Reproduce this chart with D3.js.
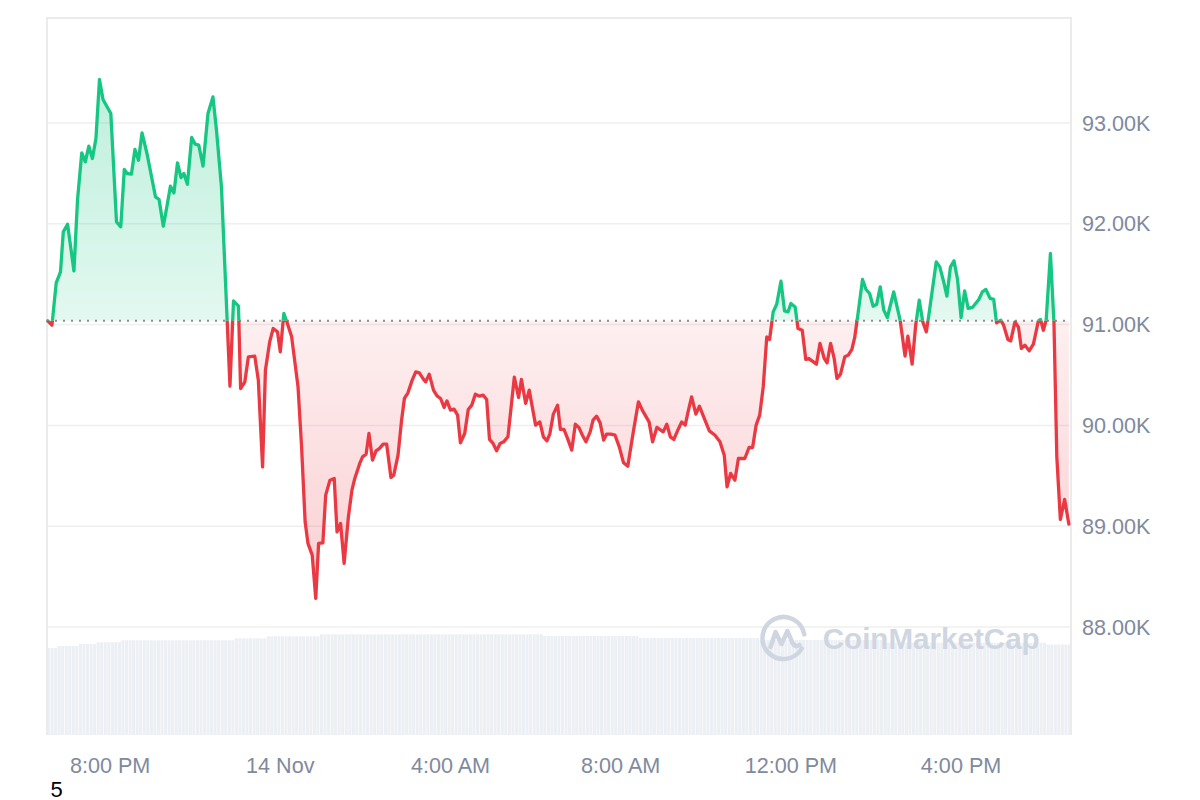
<!DOCTYPE html>
<html><head><meta charset="utf-8">
<script src="https://cdn.jsdelivr.net/npm/d3@7"></script>
<style>
html,body{margin:0;padding:0;background:#fff;}
svg{display:block;font-family:"Liberation Sans",Arial,sans-serif;}
</style></head><body>
<svg id="chart" width="1200" height="800"></svg>
<script>
// ---- data (BTC/USD, 13–14 Nov 2024) ----
const times = [
"13 18:32","13 18:38","13 18:44","13 18:50","13 18:54","13 19:00","13 19:09","13 19:14","13 19:20","13 19:25",
"13 19:30","13 19:35","13 19:40","13 19:45","13 19:50","13 20:01","13 20:09","13 20:15","13 20:20","13 20:24",
"13 20:30","13 20:35","13 20:40","13 20:45","13 20:52","13 20:58","13 21:04","13 21:09","13 21:15","13 21:20",
"13 21:25","13 21:30","13 21:35","13 21:40","13 21:44","13 21:49","13 21:55","13 22:00","13 22:05","13 22:11",
"13 22:18","13 22:25","13 22:30","13 22:37","13 22:49","13 22:54","13 23:01","13 23:04","13 23:10","13 23:15",
"13 23:24","13 23:29","13 23:35","13 23:39","13 23:45","13 23:50","13 23:56","14 00:00","14 00:05","14 00:10",
"14 00:16","14 00:25","14 00:30","14 00:35","14 00:39","14 00:45","14 00:50","14 00:54","14 01:00","14 01:04",
"14 01:10","14 01:16","14 01:20","14 01:25","14 01:30","14 01:36","14 01:41","14 01:45","14 01:52","14 01:56",
"14 02:01","14 02:05","14 02:10","14 02:15","14 02:20","14 02:25","14 02:30","14 02:36","14 02:40","14 02:46",
"14 02:51","14 02:55","14 03:00","14 03:06","14 03:11","14 03:16","14 03:22","14 03:25","14 03:30","14 03:36",
"14 03:41","14 03:46","14 03:51","14 03:55","14 04:00","14 04:05","14 04:10","14 04:14","14 04:20","14 04:25",
"14 04:30","14 04:35","14 04:41","14 04:46","14 04:51","14 04:55","14 05:00","14 05:05","14 05:10","14 05:15",
"14 05:21","14 05:30","14 05:36","14 05:40","14 05:46","14 05:51","14 06:00","14 06:06","14 06:11","14 06:16",
"14 06:20","14 06:25","14 06:31","14 06:35","14 06:40","14 06:45","14 06:51","14 06:56","14 07:01","14 07:06",
"14 07:11","14 07:17","14 07:21","14 07:26","14 07:31","14 07:36","14 07:40","14 07:46","14 07:52","14 07:58",
"14 08:04","14 08:10","14 08:17","14 08:25","14 08:31","14 08:40","14 08:45","14 08:51","14 09:00","14 09:05",
"14 09:10","14 09:15","14 09:21","14 09:26","14 09:31","14 09:35","14 09:40","14 09:46","14 09:51","14 09:56",
"14 10:05","14 10:13","14 10:20","14 10:26","14 10:30","14 10:35","14 10:41","14 10:46","14 10:55","14 11:01",
"14 11:06","14 11:11","14 11:16","14 11:21","14 11:26","14 11:30","14 11:35","14 11:40","14 11:46","14 11:51",
"14 11:56","14 12:00","14 12:06","14 12:10","14 12:16","14 12:21","14 12:25","14 12:36","14 12:41","14 12:47",
"14 12:51","14 12:56","14 13:01","14 13:05","14 13:10","14 13:16","14 13:21","14 13:26","14 13:30","14 13:35",
"14 13:41","14 13:46","14 13:51","14 13:56","14 14:01","14 14:06","14 14:11","14 14:16","14 14:25","14 14:34",
"14 14:41","14 14:45","14 14:51","14 14:56","14 15:01","14 15:06","14 15:11","14 15:15","14 15:25","14 15:30",
"14 15:36","14 15:40","14 15:45","14 15:50","14 15:55","14 16:00","14 16:05","14 16:10","14 16:16","14 16:25",
"14 16:30","14 16:35","14 16:41","14 16:46","14 16:50","14 16:56","14 17:00","14 17:06","14 17:10","14 17:16",
"14 17:21","14 17:25","14 17:30","14 17:36","14 17:42","14 17:49","14 17:52","14 17:56","14 18:00","14 18:06",
"14 18:11","14 18:15","14 18:20","14 18:26","14 18:32"
];
const prices = [
91037,90994,91413,91523,91919,91995,91532,92233,92702,92613,
92769,92647,92845,93430,93232,93093,92018,91969,92538,92498,
92491,92736,92630,92901,92696,92481,92266,92240,91976,92167,
92372,92306,92603,92458,92498,92392,92855,92789,92779,92571,
93093,93258,92927,92365,90389,91235,91182,90366,90432,90680,
90687,90449,89589,90548,90828,90961,90928,90729,91110,91011,
90878,90382,89787,89044,88830,88714,88284,88830,88836,89309,
89457,89474,88945,89028,88631,89093,89358,89474,89623,89688,
89715,89920,89656,89748,89772,89814,89814,89484,89507,89705,
90052,90267,90323,90449,90531,90521,90456,90432,90508,90350,
90293,90267,90178,90243,90151,90161,90102,89827,89920,90158,
90201,90310,90290,90300,90257,89861,89821,89748,89821,89837,
89887,90478,90277,90456,90218,90350,90003,90035,89887,89847,
89913,90112,90201,89960,89960,89871,89755,90012,89980,89903,
89837,89936,90052,90092,90025,89854,89913,89913,89903,89787,
89629,89596,89903,90234,90144,90035,89837,89980,89936,90012,
89887,89861,89960,90035,90003,90134,90283,90112,90191,90102,
89946,89903,89837,89705,89391,89524,89457,89672,89672,89781,
89781,90003,90102,90382,90878,90852,91126,91202,91430,91136,
91126,91209,91175,90961,90944,90654,90664,90607,90813,90664,
90620,90813,90664,90466,90508,90680,90697,90753,90872,91126,
91447,91348,91308,91182,91202,91374,91143,91070,91324,91044,
90687,90885,90607,90994,91242,91027,90928,91116,91622,91572,
91408,91282,91572,91632,91447,91070,91334,91160,91170,91249,
91324,91348,91259,91249,91017,91044,90994,90852,90838,91027,
90971,90763,90796,90739,90806,91037,91051,90944,91044,91705,
91011,89688,89068,89266,89021
];
const openPrice = 91037;
// 24h volume (billion USD), one bar per 5 minutes
const volumes = [
86.1,86.1,86.1,
88.1,88.1,88.1,88.1,88.1,88.1,
90.1,90.1,90.1,90.1,90.1,
91.8,91.8,91.8,91.8,91.8,91.8,91.8,
93.8,93.8,93.8,93.8,93.8,93.8,93.8,93.8,93.8,93.8,
93.8,93.8,93.8,93.8,93.8,93.8,93.8,93.8,93.8,93.8,
93.8,93.8,93.8,93.8,93.8,93.8,93.8,93.8,93.8,93.8,
93.8,93.8,
95.7,95.7,95.7,95.7,95.7,95.7,95.7,95.7,95.7,
97.7,97.7,97.7,97.7,97.7,97.7,97.7,97.7,97.7,97.7,
97.7,97.7,97.7,97.7,97.7,
99.7,99.7,99.7,99.7,99.7,99.7,99.7,99.7,99.7,99.7,
99.7,99.7,99.7,99.7,99.7,99.7,99.7,99.7,99.7,99.7,
99.7,99.7,99.7,99.7,99.7,99.7,99.7,99.7,99.7,99.7,
99.7,99.7,99.7,99.7,99.7,99.7,99.7,99.7,99.7,99.7,
99.7,99.7,99.7,99.7,99.7,99.7,99.7,99.7,99.7,99.7,
99.7,99.7,99.7,99.7,99.7,99.7,99.7,99.7,99.7,99.7,
99.7,99.7,99.7,
98.0,98.0,98.0,98.0,98.0,98.0,98.0,98.0,98.0,98.0,
98.0,98.0,98.0,98.0,98.0,98.0,98.0,98.0,98.0,98.0,
98.0,98.0,98.0,98.0,98.0,98.0,98.0,
96.0,96.0,96.0,96.0,96.0,96.0,96.0,96.0,96.0,96.0,
96.0,96.0,96.0,96.0,96.0,96.0,96.0,96.0,96.0,96.0,
96.0,96.0,96.0,96.0,96.0,96.0,96.0,96.0,96.0,96.0,
96.0,96.0,96.0,96.0,
94.1,94.1,94.1,94.1,94.1,94.1,94.1,94.1,94.1,94.1,
94.1,94.1,94.1,94.1,94.1,94.1,94.1,94.1,94.1,94.1,
94.1,94.1,94.1,94.1,94.1,94.1,94.1,94.1,94.1,94.1,
94.1,94.1,94.1,94.1,94.1,
91.4,91.4,91.4,91.4,91.4,91.4,91.4,91.4,91.4,91.4,
91.4,91.4,91.4,91.4,91.4,91.4,91.4,91.4,91.4,91.4,
91.4,91.4,91.4,91.4,91.4,91.4,91.4,91.4,91.4,91.4,
91.4,91.4,91.4,91.4,91.4,91.4,91.4,91.4,91.4,91.4,
91.4,91.4,91.4,91.4,91.4,91.4,
89.6,89.6,89.6,89.6,89.6,89.6,89.6
];
const yTicks = [88000, 89000, 90000, 91000, 92000, 93000];
const yTickLabels = ["88.00K","89.00K","90.00K","91.00K","92.00K","93.00K"];
const xTickTimes = ["13 20:00","14 00:00","14 04:00","14 08:00","14 12:00","14 16:00"];
const xTickLabels = ["8:00 PM","14 Nov","4:00 AM","8:00 AM","12:00 PM","4:00 PM"];
const xDomain = ["13 18:31","14 18:35"];
const yDomain = [86930, 94040];
const volMax = 100;

// ---- drawing ----
const parse = s => d3.timeParse("%Y-%m-%d %H:%M")("2024-11-" + s);
const data = times.map((t, i) => ({t: parse(t), p: prices[i]}));

const L = 47, R = 1071, T = 18, B = 735;
const svg = d3.select("#chart");
const x = d3.scaleTime().domain(xDomain.map(parse)).range([L, R]);
const y = d3.scaleLinear().domain(yDomain).range([B, T]);
const vx = d3.scaleBand().domain(d3.range(volumes.length)).range([L, R]).paddingInner(0.14);
const vy = d3.scaleLinear().domain([0, volMax]).range([B, B - 101]);

const defs = svg.append("defs");
const yb = y(openPrice);
defs.append("clipPath").attr("id", "above").append("rect")
  .attr("x", 0).attr("y", 0).attr("width", 1200).attr("height", yb);
defs.append("clipPath").attr("id", "below").append("rect")
  .attr("x", 0).attr("y", yb).attr("width", 1200).attr("height", 800 - yb);

const gGreen = defs.append("linearGradient").attr("id", "gGreen")
  .attr("gradientUnits", "userSpaceOnUse").attr("x1", 0).attr("x2", 0)
  .attr("y1", y(d3.max(prices))).attr("y2", yb);
gGreen.append("stop").attr("offset", 0).attr("stop-color", "#16c784").attr("stop-opacity", 0.28);
gGreen.append("stop").attr("offset", 1).attr("stop-color", "#16c784").attr("stop-opacity", 0.12);
const gRed = defs.append("linearGradient").attr("id", "gRed")
  .attr("gradientUnits", "userSpaceOnUse").attr("x1", 0).attr("x2", 0)
  .attr("y1", yb).attr("y2", y(d3.min(prices)));
gRed.append("stop").attr("offset", 0).attr("stop-color", "#ea3943").attr("stop-opacity", 0.08);
gRed.append("stop").attr("offset", 1).attr("stop-color", "#ea3943").attr("stop-opacity", 0.24);

// volume bars
svg.append("g").selectAll("rect").data(volumes).join("rect")
  .attr("x", (d, i) => vx(i)).attr("width", vx.bandwidth())
  .attr("y", d => vy(d)).attr("height", d => B - vy(d))
  .attr("fill", "#eceff3");

// grid lines
svg.append("g").selectAll("line").data(yTicks).join("line")
  .attr("x1", L).attr("x2", R).attr("y1", d => y(d)).attr("y2", d => y(d))
  .attr("stroke", "#efefef").attr("stroke-width", 1.5);

// frame (top, left, right)
svg.append("path")
  .attr("d", `M${L},${B} L${L},${T} L${R},${T} L${R},${B}`)
  .attr("fill", "none").attr("stroke", "#ebebeb").attr("stroke-width", 2);

// watermark
const wm = svg.append("g").attr("opacity", 1);
wm.append("path")
  .attr("transform", "translate(783.5,638)")
  .attr("d", "M18.2,10.5 A21,21 0 1 1 20.7,-3.6")
  .attr("fill", "none").attr("stroke", "#cfd6e2").attr("stroke-width", 4.5).attr("stroke-linecap", "round");
wm.append("path")
  .attr("transform", "translate(783.5,638)")
  .attr("d", "M-13,9 L-8,-6 L-2,6 L4,-7 L9,5 Q12,10 16,7")
  .attr("fill", "none").attr("stroke", "#cfd6e2").attr("stroke-width", 4.5)
  .attr("stroke-linecap", "round").attr("stroke-linejoin", "round");
wm.append("text").attr("x", 822.7).attr("y", 649.3)
  .attr("font-size", 29).attr("font-weight", "bold").attr("fill", "#cfd6e2")
  .attr("textLength", 217).attr("lengthAdjust", "spacingAndGlyphs")
  .text("CoinMarketCap");

// areas
const area = d3.area().x(d => x(d.t)).y0(yb).y1(d => y(d.p));
svg.append("path").datum(data).attr("d", area).attr("fill", "url(#gGreen)").attr("clip-path", "url(#above)");
svg.append("path").datum(data).attr("d", area).attr("fill", "url(#gRed)").attr("clip-path", "url(#below)");

// open-price dotted line
svg.append("line").attr("x1", L).attr("x2", R).attr("y1", yb).attr("y2", yb)
  .attr("stroke", "#8e8e8e").attr("stroke-width", 2).attr("stroke-dasharray", "2,6");

// price line
const line = d3.line().x(d => x(d.t)).y(d => y(d.p));
svg.append("path").datum(data).attr("d", line).attr("fill", "none")
  .attr("stroke", "#16c784").attr("stroke-width", 3.3).attr("stroke-linejoin", "round")
  .attr("stroke-linecap", "round").attr("clip-path", "url(#above)");
svg.append("path").datum(data).attr("d", line).attr("fill", "none")
  .attr("stroke", "#ea3943").attr("stroke-width", 3.3).attr("stroke-linejoin", "round")
  .attr("stroke-linecap", "round").attr("clip-path", "url(#below)");

// y axis labels (right)
svg.append("g").selectAll("text").data(yTicks).join("text")
  .attr("x", 1082).attr("y", d => y(d)).attr("dy", "0.36em")
  .attr("font-size", 21.6).attr("fill", "#808a9d")
  .text((d, i) => yTickLabels[i]);

// x axis labels
svg.append("g").selectAll("text").data(xTickTimes).join("text")
  .attr("x", d => x(parse(d))).attr("y", 773).attr("text-anchor", "middle")
  .attr("font-size", 21.6).attr("fill", "#808a9d")
  .text((d, i) => xTickLabels[i]);

// stray label
svg.append("text").attr("x", 50.5).attr("y", 796.5).attr("font-size", 22).attr("fill", "#000").text("5");
</script>
</body></html>
